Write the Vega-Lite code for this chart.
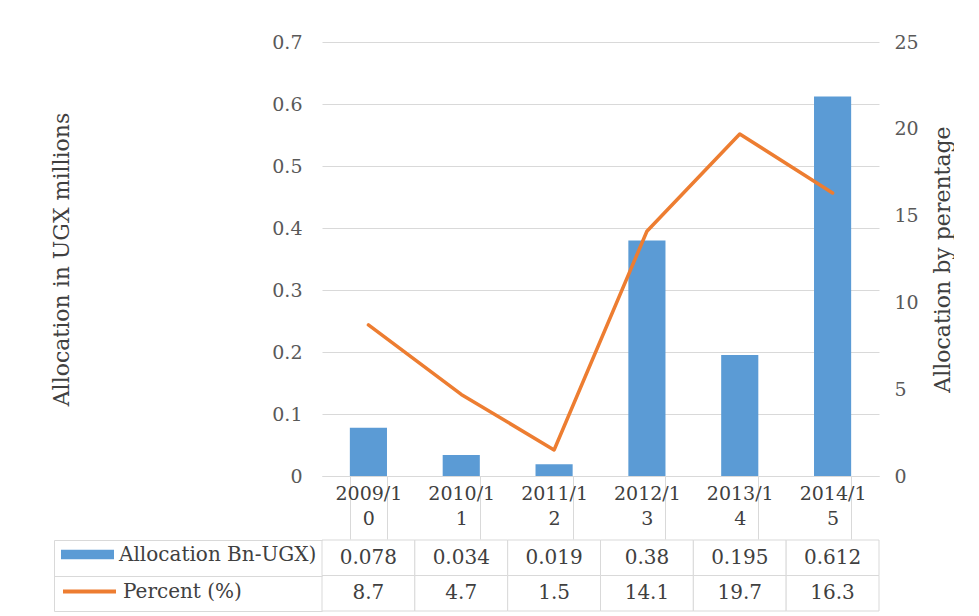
{
  "$schema": "https://vega.github.io/schema/vega-lite/v6.json",
  "padding": {"left": 50, "top": 33, "right": 0, "bottom": 0},
  "background": "white",
  "spacing": -1,
  "config": {
    "font": "DejaVu Serif",
    "view": {"stroke": null},
    "axis": {"labelFont": "DejaVu Serif", "titleFont": "DejaVu Serif", "titleFontWeight": "normal"}
  },
  "datasets": {
    "budget": [
      {"year": "2009/10", "alloc": 0.078, "pct": 8.7},
      {"year": "2010/11", "alloc": 0.034, "pct": 4.7},
      {"year": "2011/12", "alloc": 0.019, "pct": 1.5},
      {"year": "2012/13", "alloc": 0.38, "pct": 14.1},
      {"year": "2013/14", "alloc": 0.195, "pct": 19.7},
      {"year": "2014/15", "alloc": 0.612, "pct": 16.3}
    ]
  },
  "vconcat": [
    {
      "width": 557,
      "height": 434,
      "data": {"name": "budget"},
      "encoding": {
        "x": {
          "field": "year", "type": "ordinal", "sort": null,
          "scale": {"paddingInner": 0.6, "paddingOuter": 0.3},
          "axis": {
            "title": null, "domain": true, "domainColor": "#d9d9d9", "ticks": true,
            "tickBand": "extent", "tickSize": 63, "tickColor": "#d9d9d9",
            "labelPadding": -55, "labelAngle": 0, "labelFontSize": 19, "labelColor": "#404040",
            "labelLineHeight": 25, "labelBaseline": "top",
            "labelExpr": "[substring(datum.label,0,6), substring(datum.label,6)]"
          }
        }
      },
      "layer": [
        {
          "mark": {"type": "bar"},
          "encoding": {
            "y": {
              "field": "alloc", "type": "quantitative",
              "scale": {"domain": [0, 0.7]},
              "axis": {
                "title": "Allocation in UGX millions", "values": [0, 0.1, 0.2, 0.3, 0.4, 0.5, 0.6, 0.7],
                "format": ".1~f", "domain": false, "ticks": false, "grid": true, "gridColor": "#d9d9d9",
                "labelPadding": 20, "labelFontSize": 19, "labelColor": "#595959",
                "titleFontSize": 22, "titleColor": "#404040", "titlePadding": 198
              }
            },
            "fill": {
              "datum": "Allocation Bn-UGX)", "type": "nominal",
              "scale": {"range": ["#5b9bd5"]},
              "legend": {
                "title": null, "orient": "none", "legendX": -261, "legendY": 486, "padding": 0,
                "symbolType": "M-1,-0.18L1,-0.18L1,0.18L-1,0.18Z", "symbolSize": 2809,
                "symbolStrokeWidth": 0, "labelFont": "DejaVu Serif", "labelFontSize": 20,
                "labelColor": "#404040", "labelOffset": 5, "labelLimit": 400
              }
            }
          }
        },
        {
          "mark": {"type": "line", "strokeWidth": 3.5, "strokeJoin": "round", "strokeCap": "round"},
          "encoding": {
            "y": {
              "field": "pct", "type": "quantitative",
              "scale": {"domain": [0, 25]},
              "axis": {
                "orient": "right", "title": "Allocation by perentage", "values": [0, 5, 10, 15, 20, 25],
                "domain": false, "ticks": false, "grid": false,
                "labelPadding": 15, "labelFontSize": 19, "labelColor": "#595959",
                "titleFontSize": 22, "titleColor": "#404040", "titlePadding": 36, "titleAngle": 270
              }
            },
            "stroke": {
              "datum": "Percent (%)", "type": "nominal",
              "scale": {"range": ["#ed7d31"]},
              "legend": {
                "title": null, "orient": "none", "legendX": -261, "legendY": 521, "padding": 0,
                "symbolType": "stroke", "symbolSize": 2809, "symbolStrokeWidth": 4,
                "labelFont": "DejaVu Serif", "labelFontSize": 20,
                "labelColor": "#404040", "labelOffset": 5, "labelLimit": 400
              }
            }
          }
        }
      ],
      "resolve": {"scale": {"y": "independent"}}
    },
    {
      "width": 557,
      "height": 71,
      "data": {"name": "budget"},
      "transform": [{"fold": ["alloc", "pct"], "as": ["series", "value"]}],
      "encoding": {
        "x": {
          "field": "year", "type": "ordinal", "sort": null,
          "scale": {"paddingInner": 0, "paddingOuter": 0},
          "axis": null
        }
      },
      "layer": [
        {
          "mark": {"type": "rect", "fill": "white", "stroke": "#d9d9d9", "strokeWidth": 1},
          "encoding": {
            "y": {
              "field": "series", "type": "nominal",
              "scale": {"domain": ["alloc", "pct"], "paddingInner": 0, "paddingOuter": 0},
              "axis": {
                "orient": "left", "title": null, "labels": false, "ticks": true,
                "tickBand": "extent", "tickSize": 268, "tickColor": "#d9d9d9", "domain": false
              }
            }
          }
        },
        {
          "mark": {"type": "text", "fontSize": 20, "color": "#404040", "font": "DejaVu Serif"},
          "encoding": {
            "y": {
              "field": "series", "type": "nominal",
              "scale": {"domain": ["alloc", "pct"], "paddingInner": 0, "paddingOuter": 0},
              "axis": {
                "orient": "left", "offset": 268, "title": null, "labels": false, "ticks": false,
                "domain": true, "domainColor": "#d9d9d9"
              }
            },
            "text": {"field": "value", "type": "nominal"}
          }
        }
      ],
      "resolve": {"scale": {"y": "independent"}, "axis": {"y": "independent"}}
    }
  ]
}
